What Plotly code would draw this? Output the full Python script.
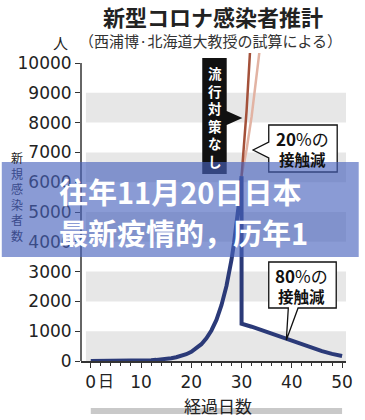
import plotly.graph_objects as go

# ---- data ----
days_80 = [0, 1, 2, 3, 4, 5, 6, 7, 8, 9, 10, 11, 12, 13, 14, 15, 16, 17, 18, 19, 20,
           21, 22, 23, 24, 25, 26, 27, 27.5, 28, 28.5, 29, 29.5, 30,
           30, 32, 34, 36, 38, 40, 42, 44, 46, 48, 50]
cases_80 = [1, 1, 1, 2, 3, 4, 5, 6, 8, 11, 15, 21, 28, 38, 51, 69, 93, 126, 170, 229, 310,
            417, 563, 760, 1025, 1380, 1870, 2520, 2930, 3400, 3960, 4590, 5320, 6200,
            1250, 1150, 1030, 900, 780, 660, 540, 430, 330, 240, 170]
days_none = [30, 31, 32]
cases_none = [6200, 8400, 11300]
days_20 = [30, 31, 32, 33, 34]
cases_20 = [6200, 7100, 8200, 9500, 11000]

ytick_vals = [0, 1000, 2000, 3000, 4000, 5000, 6000, 7000, 8000, 9000, 10000]
ytick_text = ["0", "1000", "2000", "3000", "4000", "5000", "6000", "7000", "8000", "9000", "10000"]
xtick_vals = [0, 10, 20, 30, 40, 50]
xtick_text = ["0", "10", "20", "30", "40", "50"]
band_ranges = [(0, 1000), (2000, 3000), (4000, 5000), (6000, 7000), (8000, 9000)]

title = "新型コロナ感染者推計"
subtitle = "（西浦博·北海道大教授の試算による）"
ytitle = "新規感染者数"
xtitle = "経過日数"
no_measures = "流行対策なし"
banner1 = "往年11月20日日本"
banner2 = "最新疫情的，历年1"

# ---- layout geometry ----
W, H = 365, 420
L, R, T, B = 81, 13, 53, 59
PW, PH = W - L - R, H - T - B


def px(x):
    return (x - L) / PW


def py(y):
    return (H - B - y) / PH


JP = "Noto Sans CJK JP"
NUM = "DejaVu Sans"
DARK = "#222222"

fig = go.Figure()
fig.add_trace(go.Scatter(x=days_20, y=cases_20, mode="lines",
                         line=dict(color="#e2b3a3", width=2.5), hoverinfo="skip"))
fig.add_trace(go.Scatter(x=days_none, y=cases_none, mode="lines",
                         line=dict(color="#a4513a", width=2.5), hoverinfo="skip"))
fig.add_trace(go.Scatter(x=days_80, y=cases_80, mode="lines",
                         line=dict(color="#2b3a78", width=4), hoverinfo="skip"))

shapes = []
for lo, hi in band_ranges:
    shapes.append(dict(type="rect", xref="paper", yref="y", x0=px(86), x1=1,
                       y0=lo, y1=hi, fillcolor="#e7e7e7", line=dict(width=0), layer="below"))
# y axis line (0..10000)
shapes.append(dict(type="line", xref="paper", yref="y", x0=0, x1=0, y0=0, y1=10000,
                   line=dict(color="#333333", width=1.5), layer="above"))
# gray bar under x title
shapes.append(dict(type="rect", xref="paper", yref="paper", x0=px(91), x1=px(348),
                   y0=py(414), y1=py(408), fillcolor="#c9c9c9", line=dict(width=0), layer="below"))


def path(points):
    return "M " + " L ".join(f"{px(a):.5f},{py(b):.5f}" for a, b in points) + " Z"


# black box with pointer
shapes.append(dict(type="path", xref="paper", yref="paper",
                   path=path([(205, 58), (230, 58), (230, 111), (246, 118), (230, 125), (230, 174), (205, 174)]),
                   fillcolor="#111111", line=dict(width=0), layer="above"))
# 20% box
shapes.append(dict(type="path", xref="paper", yref="paper",
                   path=path([(273, 125), (343, 125), (343, 172), (273, 172), (273, 158), (257, 150), (273, 142)]),
                   fillcolor="white", line=dict(color="#111111", width=1.3), layer="above"))
# 80% box
shapes.append(dict(type="path", xref="paper", yref="paper",
                   path=path([(273, 262), (342, 262), (342, 308), (303, 308), (291, 340), (293, 308), (273, 308)]),
                   fillcolor="white", line=dict(color="#111111", width=1.3), layer="above"))
# banner
shapes.append(dict(type="rect", xref="paper", yref="paper", x0=px(0), x1=px(365),
                   y0=py(257), y1=py(162), fillcolor="rgba(72,98,190,0.64)",
                   line=dict(width=0), layer="above"))

ann = []


def text(x, y, t, size, color=DARK, family=JP, xanchor="center"):
    ann.append(dict(xref="paper", yref="paper", x=px(x), y=py(y), text=t, showarrow=False,
                    xanchor=xanchor, yanchor="middle", borderpad=0,
                    font=dict(family=family, size=size, color=color)))


text(216, 16, f"<b>{title}</b>", 22)
text(213, 40, subtitle, 15, "#333333")
text(60, 43, "人", 15)
ycols = [DARK, "#3a4a8c", "#3a4a8c", "#3a4a8c", "#3a4a8c", "#3a4a8c"]
ytxt = "<br>".join(f"<span style='color:{c}'>{ch}</span>" for ch, c in zip(ytitle, ycols))
text(16, 196, ytxt, 12)
text(218, 117, "<b>" + "<br>".join(no_measures) + "</b>", 13.5, "white")
text(308, 148, "<span style='font-size:17px'><b>20</b>%の</span><br><b>接触減</b>", 15.5, "#111111")
text(307, 285, "<span style='font-size:17px'><b>80</b>%の</span><br><b>接触減</b>", 15.5, "#111111")
text(107, 380, "日", 16)
text(221, 405, xtitle, 17)
text(57, 191, f"<b>{banner1}</b>", 29, "white", "Noto Sans CJK SC", "left")
text(57, 232, f"<b>{banner2}</b>", 29, "white", "Noto Sans CJK SC", "left")

fig.update_layout(
    width=W, height=H, margin=dict(l=L, r=R, t=T, b=B, pad=0),
    paper_bgcolor="white", plot_bgcolor="white", showlegend=False,
    shapes=shapes, annotations=ann,
    xaxis=dict(range=[-(91 - L) / 5.14, (W - R - 91) / 5.14], tickvals=xtick_vals, ticktext=xtick_text,
               showgrid=False, zeroline=False, showline=True, linecolor="#333333", linewidth=1.5,
               ticks="outside", ticklen=5, tickwidth=1.2, tickcolor="#333333",
               minor=dict(dtick=2, tick0=0, ticks="outside", ticklen=3.5, tickwidth=1, tickcolor="#333333"),
               tickfont=dict(family=NUM, size=17, color=DARK), fixedrange=True),
    yaxis=dict(range=[0, (H - B - T) / 0.0298], tickvals=ytick_vals, ticktext=ytick_text,
               showgrid=False, zeroline=False, showline=False,
               ticks="outside", ticklen=5, tickwidth=1.2, tickcolor="#333333",
               tickfont=dict(family=NUM, size=17, color=DARK), fixedrange=True),
)

fig.write_html("out.html")
